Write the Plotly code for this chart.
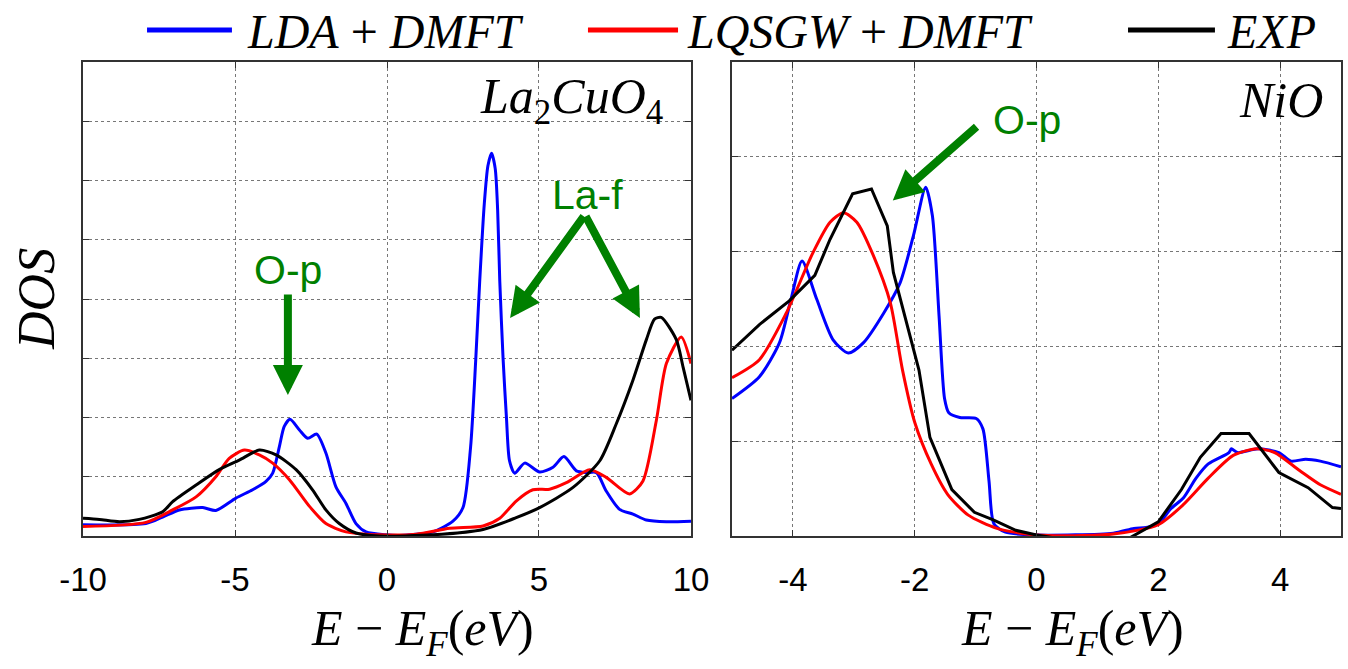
import plotly.graph_objects as go

# ---------------- La2CuO4 : density of states vs E - E_F (eV) ----------------
la_lda_e = [-10, -7.93, -7.38, -6.83, -6.06, -5.63, -4.97, -4.42, -3.98, -3.76, -3.54, -3.38,
            -3.19, -2.88, -2.61, -2.31, -2.01, -1.68, -1.35, -1.02, -0.69, -0.03, 0.42, 1.51,
            2.17, 2.5, 2.75, 2.92, 3.05, 3.2, 3.32, 3.44, 3.56, 3.64, 3.71, 3.82, 3.93, 4.03,
            4.2, 4.53, 5.02, 5.46, 5.82, 6.23, 6.56, 6.89, 7.21, 7.65, 8.09, 8.53, 9.19, 10]
la_lda_dos = [0.19, 0.21, 0.32, 0.44, 0.48, 0.43, 0.64, 0.78, 0.92, 1.06, 1.51, 1.85,
              1.97, 1.79, 1.65, 1.72, 1.40, 0.83, 0.55, 0.21, 0.07, 0.02, 0.01, 0.07,
              0.25, 0.48, 1.5, 2.98, 4.3, 5.6, 6.25, 6.46, 6.2, 5.5, 4.3, 2.98, 1.99, 1.27,
              1.06, 1.23, 1.08, 1.16, 1.34, 1.10, 1.07, 1.07, 0.76, 0.45, 0.37, 0.27, 0.24, 0.25]

la_qsgw_e = [-10, -7.93, -7.05, -6.28, -5.63, -5.19, -4.69, -4.2, -3.76, -3.21, -2.55, -2.01,
             -1.35, -0.25, 0.96, 2.06, 3.16, 3.71, 4.25, 4.8, 5.35, 5.9, 6.67, 7.21, 7.98,
             8.42, 8.86, 9.19, 9.68, 10]
la_qsgw_dos = [0.16, 0.23, 0.44, 0.66, 1.0, 1.31, 1.45, 1.37, 1.23, 0.95, 0.5, 0.21,
               0.07, 0.02, 0.03, 0.13, 0.17, 0.3, 0.59, 0.78, 0.79, 0.9, 1.12, 0.99, 0.71,
               0.93, 1.95, 2.91, 3.36, 2.91]

la_exp_e = [-10, -9.46, -8.8, -8.15, -7.38, -7.05, -6.28, -5.52, -4.86, -4.2, -3.65, -2.99,
            -2.45, -2.01, -1.57, -1.02, -0.25, 1.51, 3.16, 4.25, 5.02, 6.12, 7.0, 7.54, 8.09,
            8.53, 8.8, 9.02, 9.52, 9.74, 10]
la_exp_dos = [0.30, 0.28, 0.24, 0.28, 0.41, 0.58, 0.86, 1.12, 1.28, 1.45, 1.37, 1.12,
              0.78, 0.44, 0.21, 0.05, 0.0, 0.02, 0.11, 0.31, 0.48, 0.82, 1.27, 1.89, 2.63,
              3.31, 3.66, 3.69, 3.31, 2.85, 2.29]

# ---------------- NiO : density of states vs E - E_F (eV) ----------------
nio_lda_e = [-5, -4.55, -4.22, -4.03, -3.85, -3.61, -3.34, -3.09, -2.84, -2.51, -2.24, -2.02,
             -1.82, -1.71, -1.6, -1.51, -1.44, -1.26, -0.99, -0.88, -0.78, -0.70, -0.51, 0,
             1.26, 1.6, 1.8, 2.0, 2.21, 2.41, 2.62, 2.82, 3.16, 3.2, 3.3, 3.64, 3.98, 4.18,
             4.42, 4.66, 5]
nio_lda_dos = [1.45, 1.68, 2.04, 2.5, 2.9, 2.5, 2.07, 1.93, 2.04, 2.35, 2.67, 3.17,
               3.68, 3.38, 2.32, 1.45, 1.30, 1.25, 1.24, 1.13, 0.58, 0.13, 0.04, 0.01,
               0.03, 0.08, 0.09, 0.13, 0.29, 0.4, 0.61, 0.76, 0.88, 0.92, 0.88, 0.92, 0.88, 0.79,
               0.81, 0.79, 0.73]

nio_qsgw_e = [-5, -4.55, -4.11, -3.67, -3.39, -3.17, -2.95, -2.68, -2.4, -2.2, -2.0, -1.73,
              -1.46, -1.12, -0.65, 0, 1.26, 2.0, 2.41, 2.82, 3.23, 3.61, 3.91, 4.32, 4.66, 5]
nio_qsgw_dos = [1.67, 1.86, 2.35, 2.99, 3.31, 3.41, 3.31, 2.96, 2.46, 1.75, 1.2, 0.76,
                0.44, 0.22, 0.08, 0.01, 0.02, 0.12, 0.33, 0.61, 0.85, 0.92, 0.88, 0.69, 0.54, 0.44]

nio_exp_e = [-5, -4.55, -4.06, -3.64, -3.39, -3.02, -2.71, -2.45, -2.35, -2.13, -1.93, -1.75,
             -1.39, -1.02, -0.71, -0.34, 0, 0.6, 1.2, 1.53, 2.0, 2.38, 2.69, 3.03, 3.49,
             3.98, 4.46, 4.86, 5]
nio_exp_dos = [1.96, 2.23, 2.48, 2.75, 3.13, 3.61, 3.66, 3.27, 2.78, 2.25, 1.75, 1.04,
               0.49, 0.25, 0.17, 0.06, 0.01, -0.05, -0.06, -0.02, 0.15, 0.49, 0.83, 1.08, 1.08,
               0.67, 0.51, 0.30, 0.29]

# tick labels
la_ticks = [-10, -5, 0, 5, 10]
la_ticktext = ["-10", "-5", "0", "5", "10"]
nio_ticks = [-4, -2, 0, 2, 4]
nio_ticktext = ["-4", "-2", "0", "2", "4"]

series_names = ["<i>LDA</i> + <i>DMFT</i>", "<i>LQSGW</i> + <i>DMFT</i>", "<i>EXP</i>"]
series_colors = ["#0000ff", "#ff0000", "#000000"]
GREEN = "#008000"
SERIF = "Liberation Serif"
SANS = "Liberation Sans"
NB = "\u00a0"

fig = go.Figure()


def add_curve(x, y, color, xa, ya, shape="spline"):
    fig.add_trace(go.Scatter(
        x=x, y=y, mode="lines", xaxis=xa, yaxis=ya, showlegend=False, hoverinfo="skip",
        line=dict(color=color, width=3, shape=shape, smoothing=0.7)))


add_curve(la_lda_e, la_lda_dos, series_colors[0], "x", "y")
add_curve(la_qsgw_e, la_qsgw_dos, series_colors[1], "x", "y")
add_curve(la_exp_e, la_exp_dos, series_colors[2], "x", "y")
add_curve(nio_lda_e, nio_lda_dos, series_colors[0], "x2", "y2")
add_curve(nio_qsgw_e, nio_qsgw_dos, series_colors[1], "x2", "y2")
add_curve(nio_exp_e, nio_exp_dos, series_colors[2], "x2", "y2", shape="linear")

axis_style = dict(showline=True, linecolor="#333333", linewidth=1.5, mirror="ticks",
                  ticks="inside", ticklen=6, tickcolor="#333333", zeroline=False,
                  showgrid=True, gridcolor="#777777", griddash="dot", gridwidth=1,
                  automargin=False)
tickfont = dict(family=SANS, size=33, color="#000000")

fig.update_layout(
    width=1348, height=669,
    margin=dict(l=83, r=7, t=62, b=133, autoexpand=False),
    paper_bgcolor="white", plot_bgcolor="white",
    xaxis=dict(domain=[0, 0.4833], range=[-10, 10], tickvals=la_ticks, ticktext=la_ticktext,
               tickfont=tickfont, anchor="y", ticklabelstandoff=14, **axis_style),
    yaxis=dict(domain=[0, 1], range=[0, 8], dtick=1, tick0=0, showticklabels=False,
               anchor="x", **axis_style),
    xaxis2=dict(domain=[0.5159, 1], range=[-5, 5], tickvals=nio_ticks, ticktext=nio_ticktext,
                tickfont=tickfont, anchor="y2", ticklabelstandoff=14, **axis_style),
    yaxis2=dict(domain=[0, 1], range=[0, 5], dtick=1, tick0=0, showticklabels=False,
                anchor="x2", **axis_style),
)

annotations = []
shapes = []

# legend row above the panels
legend_items = [(0.0509, 0.1184, 0.1288), (0.4014, 0.4730, 0.4785), (0.8307, 0.8998, 0.9078)]
for (x0, x1, xt), name, color in zip(legend_items, series_names, series_colors):
    shapes.append(dict(type="line", xref="paper", yref="paper", x0=x0, x1=x1,
                       y0=1.0675, y1=1.0675, line=dict(color=color, width=5)))
    annotations.append(dict(xref="paper", yref="paper", x=xt, y=1.0654, xanchor="left",
                            yanchor="middle", text=name, showarrow=False,
                            font=dict(family=SERIF, size=48, color="#000000")))

# axis titles
annotations.append(dict(xref="paper", yref="paper", x=-0.0374, y=0.5, text="<i>DOS</i>",
                        textangle=-90, showarrow=False, xanchor="center", yanchor="middle",
                        font=dict(family=SERIF, size=52, color="#000000")))
x_title = f"<i>E</i>{NB}−{NB}<i>E</i><sub><i>F</i></sub>(<i>eV</i>)"
for xc in (0.2695, 0.7862):
    annotations.append(dict(xref="paper", yref="paper", x=xc, y=-0.2025, text=x_title,
                            showarrow=False, xanchor="center", yanchor="middle",
                            font=dict(family=SERIF, size=50, color="#000000")))

# panel labels
annotations.append(dict(xref="x", yref="y", x=9.14, y=7.36, xanchor="right", yanchor="middle",
                        text="<i>La</i><sub>2</sub><i>CuO</i><sub>4</sub>", showarrow=False,
                        font=dict(family=SERIF, size=50, color="#000000")))
annotations.append(dict(xref="x2", yref="y2", x=4.74, y=4.6, xanchor="right", yanchor="middle",
                        text="<i>NiO</i>", showarrow=False,
                        font=dict(family=SERIF, size=50, color="#000000")))

# orbital labels and arrows
label_font = dict(family=SANS, size=41, color=GREEN)
annotations.append(dict(xref="x", yref="y", x=-3.26, y=4.49, text="O-p", showarrow=False,
                        font=label_font))
annotations.append(dict(xref="x", yref="y", x=6.61, y=5.76, text="La-f", showarrow=False,
                        font=label_font))
annotations.append(dict(xref="x2", yref="y2", x=-0.16, y=4.39, text="O-p", showarrow=False,
                        font=label_font))

arrow = dict(text="", showarrow=True, arrowhead=2, arrowwidth=8, arrowsize=0.75,
             arrowcolor=GREEN, standoff=0, startstandoff=0)
annotations.append(dict(xref="x", yref="y", axref="x", ayref="y", x=-3.26, y=2.38,
                        ax=-3.26, ay=4.10, **arrow))
annotations.append(dict(xref="x", yref="y", axref="x", ayref="y", x=4.05, y=3.68,
                        ax=6.51, ay=5.42, **arrow))
annotations.append(dict(xref="x", yref="y", axref="x", ayref="y", x=8.32, y=3.68,
                        ax=6.51, ay=5.42, **arrow))
annotations.append(dict(xref="x2", yref="y2", axref="x2", ayref="y2", x=-2.36, y=3.54,
                        ax=-0.96, ay=4.33, **arrow))

fig.update_layout(annotations=annotations, shapes=shapes)

fig.write_html("out.html")
